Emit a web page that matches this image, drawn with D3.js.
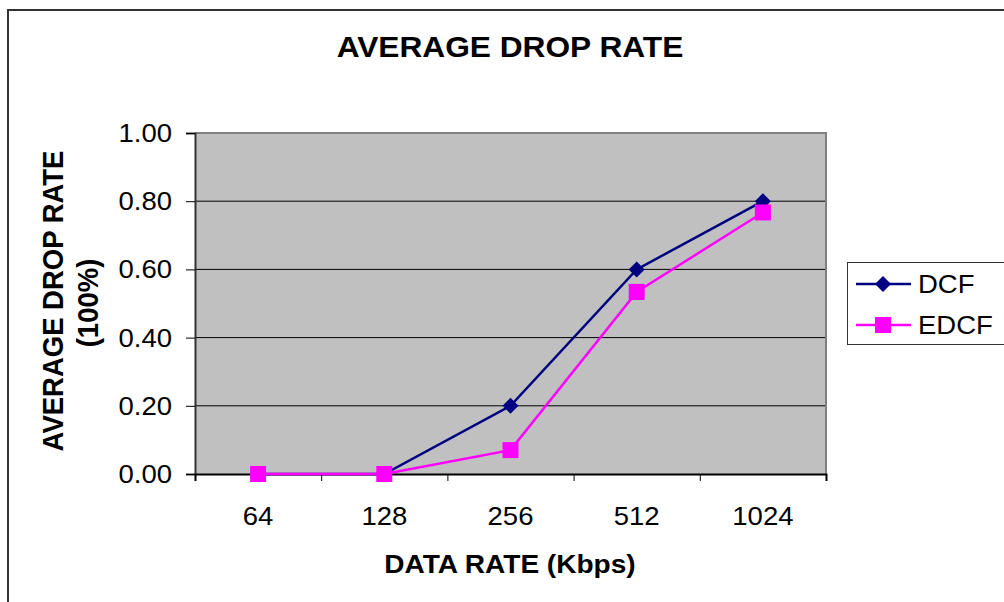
<!DOCTYPE html>
<html>
<head>
<meta charset="utf-8">
<script src="https://cdn.jsdelivr.net/npm/d3@7"></script>
<style>
  html, body { margin: 0; padding: 0; background: #fff; }
  svg { display: block; }
  text { font-family: "Liberation Sans", Arial, sans-serif; fill: #000; }
</style>
</head>
<body>
<svg id="chart" width="1004" height="602"></svg>
<script>
const categories = ["64", "128", "256", "512", "1024"];
const dcfValues = [0.00, 0.00, 0.20, 0.60, 0.80];
const edcfValues = [0.00, 0.00, 0.07, 0.534, 0.767];
const yTicks = [0, 0.2, 0.4, 0.6, 0.8, 1.0];
const seriesNames = ["DCF", "EDCF"];
const titleText = "AVERAGE DROP RATE";
const xTitle = "DATA RATE (Kbps)";
const yTitle1 = "AVERAGE DROP RATE";
const yTitle2 = "(100%)";

const SX = 1.1; // horizontal stretch of the reference's text
const svg = d3.select("#chart");

// outer chart border
svg.append("rect").attr("x", 8).attr("y", 10).attr("width", 1010).attr("height", 610)
  .attr("fill", "#fff").attr("stroke", "#333").attr("stroke-width", 2);

const plot = {left: 195, right: 826, top: 133, bottom: 474};
const x = d3.scaleBand().domain(categories).range([plot.left, plot.right]);
const y = d3.scaleLinear().domain([0, 1]).range([plot.bottom, plot.top]);

// plot background
svg.append("rect").attr("x", plot.left).attr("y", plot.top)
  .attr("width", plot.right - plot.left).attr("height", plot.bottom - plot.top)
  .attr("fill", "#C0C0C0");

// gridlines
svg.append("g").selectAll("line").data(yTicks.filter(t => t > 0 && t < 1)).join("line")
  .attr("x1", plot.left).attr("x2", plot.right)
  .attr("y1", d => y(d)).attr("y2", d => y(d))
  .attr("stroke", "#000").attr("stroke-width", 1);

// plot border top/right (gray)
svg.append("path")
  .attr("d", `M${plot.left},${plot.top}H${plot.right}V${plot.bottom}`)
  .attr("fill", "none").attr("stroke", "#808080").attr("stroke-width", 2);

// y axis
const yAxis = d3.axisLeft(y).tickValues(yTicks).tickSize(9).tickFormat("");
const gy = svg.append("g").attr("transform", `translate(${plot.left},0)`).call(yAxis);
gy.select(".domain").attr("stroke", "#333").attr("stroke-width", 2);
gy.selectAll(".tick line").attr("stroke", "#000").attr("stroke-width", 1);

svg.append("g").selectAll("text").data(yTicks).join("text")
  .attr("transform", d => `translate(172,${y(d) + 9}) scale(${SX},1)`)
  .attr("text-anchor", "end").attr("font-size", 25)
  .text(d => d3.format(".2f")(d));

// x axis
const xAxis = d3.axisBottom(d3.scaleLinear().domain([0, categories.length]).range([plot.left, plot.right]))
  .tickValues(d3.range(categories.length + 1)).tickSize(7).tickFormat("");
const gx = svg.append("g").attr("transform", `translate(0,${plot.bottom})`).call(xAxis);
gx.select(".domain").attr("stroke", "#000").attr("stroke-width", 2);
gx.selectAll(".tick line").attr("stroke", "#000").attr("stroke-width", 1);

svg.append("g").selectAll("text").data(categories).join("text")
  .attr("transform", d => `translate(${x(d) + x.bandwidth() / 2},525) scale(${SX},1)`)
  .attr("text-anchor", "middle").attr("font-size", 25)
  .text(d => d);

// titles
svg.append("text").attr("transform", `translate(510,57) scale(${SX},1)`)
  .attr("text-anchor", "middle").attr("font-size", 28.8).attr("font-weight", "bold")
  .text(titleText);
svg.append("text").attr("transform", `translate(510,573) scale(${SX},1)`)
  .attr("text-anchor", "middle").attr("font-size", 25.5).attr("font-weight", "bold")
  .text(xTitle);
svg.append("text").attr("transform", `translate(63,301) rotate(-90) scale(1,${SX})`)
  .attr("text-anchor", "middle").attr("font-size", 27.5).attr("font-weight", "bold")
  .text(yTitle1);
svg.append("text").attr("transform", `translate(98,303) rotate(-90) scale(1,${SX})`)
  .attr("text-anchor", "middle").attr("font-size", 27.5).attr("font-weight", "bold")
  .text(yTitle2);

// series
const cx = d => x(d) + x.bandwidth() / 2;
const line = d3.line().x(d => cx(d.c)).y(d => y(d.v));
const dcf = categories.map((c, i) => ({c, v: dcfValues[i]}));
const edcf = categories.map((c, i) => ({c, v: edcfValues[i]}));
const colors = {DCF: "#000080", EDCF: "#FF00FF"};

svg.append("path").datum(dcf).attr("d", line).attr("fill", "none")
  .attr("stroke", colors.DCF).attr("stroke-width", 2.5);
svg.append("path").datum(edcf).attr("d", line).attr("fill", "none")
  .attr("stroke", colors.EDCF).attr("stroke-width", 2.5);

const diamond = d3.symbol().type(d3.symbolSquare).size(128);
svg.append("g").selectAll("path").data(dcf).join("path")
  .attr("d", diamond())
  .attr("transform", d => `translate(${cx(d.c)},${y(d.v)}) rotate(45)`)
  .attr("fill", colors.DCF);
svg.append("g").selectAll("rect").data(edcf).join("rect")
  .attr("x", d => cx(d.c) - 8).attr("y", d => y(d.v) - 8)
  .attr("width", 16).attr("height", 16)
  .attr("fill", colors.EDCF);

// legend
const lg = svg.append("g");
lg.append("rect").attr("x", 847.5).attr("y", 262.5).attr("width", 170).attr("height", 82)
  .attr("fill", "#fff").attr("stroke", "#333").attr("stroke-width", 1);
const legY = [284, 325];
seriesNames.forEach((name, i) => {
  const g = lg.append("g");
  g.append("line").attr("x1", 856).attr("x2", 911).attr("y1", legY[i]).attr("y2", legY[i])
    .attr("stroke", colors[name]).attr("stroke-width", 2.5);
  if (name === "DCF") {
    g.append("path").attr("d", diamond()).attr("transform", `translate(883,${legY[i]}) rotate(45)`)
      .attr("fill", colors[name]);
  } else {
    g.append("rect").attr("x", 875).attr("y", legY[i] - 8).attr("width", 16).attr("height", 16)
      .attr("fill", colors[name]);
  }
  g.append("text").attr("transform", `translate(918,${legY[i] + 9}) scale(${SX},1)`)
    .attr("font-size", 25).text(name);
});
</script>
</body>
</html>
